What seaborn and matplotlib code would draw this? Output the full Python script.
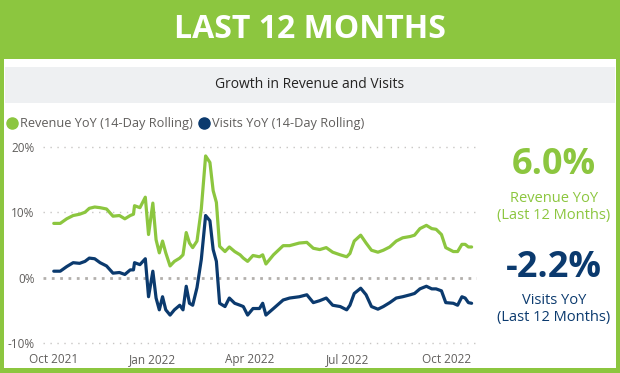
import pandas as pd
import matplotlib
matplotlib.use("Agg")
import matplotlib.pyplot as plt
from matplotlib.patches import Rectangle
from matplotlib.lines import Line2D
import seaborn as sns

# --- data --------------------------------------------------------------------
dates = [
    "2021-10-01", "2021-10-07", "2021-10-13", "2021-10-19", "2021-10-25", "2021-10-30",
    "2021-11-03", "2021-11-08", "2021-11-13", "2021-11-19", "2021-11-25", "2021-12-01",
    "2021-12-06", "2021-12-11", "2021-12-14", "2021-12-15", "2021-12-20", "2021-12-25",
    "2021-12-28", "2022-01-01", "2022-01-04", "2022-01-07", "2022-01-10", "2022-01-13",
    "2022-01-17", "2022-01-21", "2022-01-26", "2022-01-29", "2022-02-01", "2022-02-04",
    "2022-02-07", "2022-02-11", "2022-02-15", "2022-02-19", "2022-02-23", "2022-02-26",
    "2022-03-01", "2022-03-04", "2022-03-09", "2022-03-13", "2022-03-18", "2022-03-23",
    "2022-03-26", "2022-03-30", "2022-04-04", "2022-04-10", "2022-04-13", "2022-04-16",
    "2022-04-23", "2022-05-02", "2022-05-08", "2022-05-17", "2022-05-24", "2022-05-30",
    "2022-06-05", "2022-06-11", "2022-06-17", "2022-06-24", "2022-06-30", "2022-07-03",
    "2022-07-07", "2022-07-13", "2022-07-18", "2022-07-23", "2022-07-29", "2022-08-03",
    "2022-08-09", "2022-08-15", "2022-08-21", "2022-08-28", "2022-09-01", "2022-09-06",
    "2022-09-12", "2022-09-17", "2022-09-21", "2022-09-26", "2022-09-30", "2022-10-07",
    "2022-10-11", "2022-10-15", "2022-10-18", "2022-10-21", "2022-10-24",
]
revenue_yoy = [
    8.3, 8.3, 9.0, 9.5, 9.7, 10.0,
    10.6, 10.8, 10.7, 10.5, 9.4, 9.5,
    9.0, 9.5, 9.7, 11.0, 10.7, 12.3,
    6.6, 11.4, 5.8, 3.8, 5.6, 3.8,
    1.8, 2.5, 3.0, 3.5, 6.9, 5.3,
    4.6, 5.6, 10.5, 18.6, 17.6, 13.3,
    11.5, 4.8, 4.0, 4.7, 4.0, 3.5,
    3.0, 2.5, 3.4, 3.2, 3.5, 2.1,
    3.5, 4.9, 4.9, 5.3, 5.4, 4.5,
    4.3, 4.6, 3.9, 3.5, 3.2, 3.7,
    5.6, 6.5, 5.3, 4.2, 3.9, 4.2,
    4.7, 5.6, 6.1, 6.3, 6.5, 7.5,
    8.0, 7.5, 7.4, 6.6, 4.6, 4.0,
    4.0, 5.1, 5.1, 4.7, 4.7,
]
visits_yoy = [
    1.0, 1.0, 1.7, 2.3, 2.2, 2.5,
    3.0, 2.9, 2.3, 1.8, 0.7, 0.8,
    0.5, 1.2, 1.2, 2.3, 2.0, 2.9,
    -2.9, 1.0, -3.1, -4.9, -2.9, -4.9,
    -5.7, -4.9, -4.2, -4.9, -1.3, -3.9,
    -4.2, -1.5, 2.8, 9.5, 8.7, 4.3,
    2.5, -3.9, -4.4, -3.1, -3.9, -4.2,
    -4.4, -5.7, -4.7, -4.7, -3.9, -5.7,
    -4.7, -3.4, -3.1, -2.9, -2.6, -3.8,
    -3.5, -3.1, -4.2, -4.4, -4.9, -4.2,
    -2.4, -1.6, -2.6, -4.4, -4.8, -4.4,
    -3.8, -3.1, -2.9, -2.6, -2.4, -1.7,
    -1.3, -1.7, -1.7, -2.0, -3.8, -3.9,
    -4.2, -2.9, -3.1, -3.8, -3.9,
]
tick_dates = ["2021-10-01", "2022-01-01", "2022-04-01", "2022-07-01", "2022-10-01"]
tick_labels = ["Oct 2021", "Jan 2022", "Apr 2022", "Jul 2022", "Oct 2022"]
y_ticks = [-10, 0, 10, 20]
y_tick_labels = ["-10%", "0%", "10%", "20%"]
series_names = ["Revenue YoY (14-Day Rolling)", "Visits YoY (14-Day Rolling)"]
revenue_total = "6.0%"
visits_total = "-2.2%"

GREEN = "#8CC63F"
NAVY = "#0B3A6E"
GRAY_TXT = "#605E5C"

W, H = 620, 373


def fx(px):
    return px / W


def fy(py):
    return 1 - py / H


sns.set_theme(style="white")
plt.rcParams["font.family"] = ["Open Sans", "DejaVu Sans"]

fig = plt.figure(figsize=(6.2, 3.73), dpi=100)
fig.patch.set_facecolor(GREEN)

# white card + grey header strip (kept behind the axes)
fig.patches.append(Rectangle((fx(4), fy(368)), fx(612), 309 / H, zorder=-10,
                             transform=fig.transFigure, facecolor="white", edgecolor="none"))
fig.patches.append(Rectangle((fx(5), fy(103)), fx(610), 36 / H, zorder=-9,
                             transform=fig.transFigure, facecolor="#EEF0F2", edgecolor="none"))

fig.text(0.5, fy(29), "LAST 12 MONTHS", color="white", fontsize=23,
         fontweight="bold", ha="center", va="center")
fig.text(0.5, fy(85), "Growth in Revenue and Visits", color="#252423",
         fontsize=10, ha="center", va="center")

# --- line chart ----------------------------------------------------------------
df = pd.DataFrame({
    "date": pd.to_datetime(dates * 2),
    "value": revenue_yoy + visits_yoy,
    "series": [series_names[0]] * len(dates) + [series_names[1]] * len(dates),
})

ax = fig.add_axes([fx(43), fy(346.5), fx(434), 203 / H])
sns.lineplot(data=df, x="date", y="value", hue="series",
             palette=[GREEN, NAVY], linewidth=2.3, legend=False, ax=ax)

ax.set_ylim(-10.5, 20.5)
ax.set_xlim(pd.Timestamp("2021-09-21"), pd.Timestamp("2022-10-29"))
ax.set_yticks(y_ticks)
ax.set_yticklabels(y_tick_labels)
ax.set_xticks(pd.to_datetime(tick_dates))
ax.set_xticklabels(tick_labels)
ax.tick_params(axis="both", length=0, labelsize=8.5, labelcolor=GRAY_TXT)
ax.tick_params(axis="y", pad=6)
ax.tick_params(axis="x", pad=5)
ax.set_xlabel("")
ax.set_ylabel("")
ax.set_facecolor("none")
for s in ax.spines.values():
    s.set_visible(False)

for yv in y_ticks:
    if yv == 0:
        ax.axhline(0, color="#B3B0AD", linestyle=(0, (1, 2)), linewidth=2, zorder=0)
    else:
        ax.axhline(yv, color="#C8C6C4", linestyle=(0, (1, 4)), linewidth=1, zorder=0)

# legend
handles = [Line2D([], [], marker="o", linestyle="none", markersize=8,
                  markerfacecolor=c, markeredgecolor=c) for c in (GREEN, NAVY)]
fig.legend(handles, series_names, loc="center left", bbox_to_anchor=(fx(6), fy(124)),
           ncol=2, frameon=False, fontsize=9.2, handletextpad=0.1,
           columnspacing=0.4, handlelength=1.0, labelcolor=GRAY_TXT,
           borderaxespad=0, borderpad=0)

# --- KPI cards -----------------------------------------------------------------
fig.text(fx(554), fy(165), revenue_total, color=GREEN, fontsize=26,
         fontweight="bold", ha="center", va="center")
fig.text(fx(554), fy(199), "Revenue YoY", color=GREEN, fontsize=10.5,
         ha="center", va="center")
fig.text(fx(554), fy(215), "(Last 12 Months)", color=GREEN, fontsize=10.5,
         ha="center", va="center")
fig.text(fx(554), fy(268), visits_total, color=NAVY, fontsize=26,
         fontweight="bold", ha="center", va="center")
fig.text(fx(554), fy(300), "Visits YoY", color=NAVY, fontsize=10.5,
         ha="center", va="center")
fig.text(fx(554), fy(317), "(Last 12 Months)", color=NAVY, fontsize=10.5,
         ha="center", va="center")

fig.savefig("out.png", dpi=100, facecolor=fig.get_facecolor())
